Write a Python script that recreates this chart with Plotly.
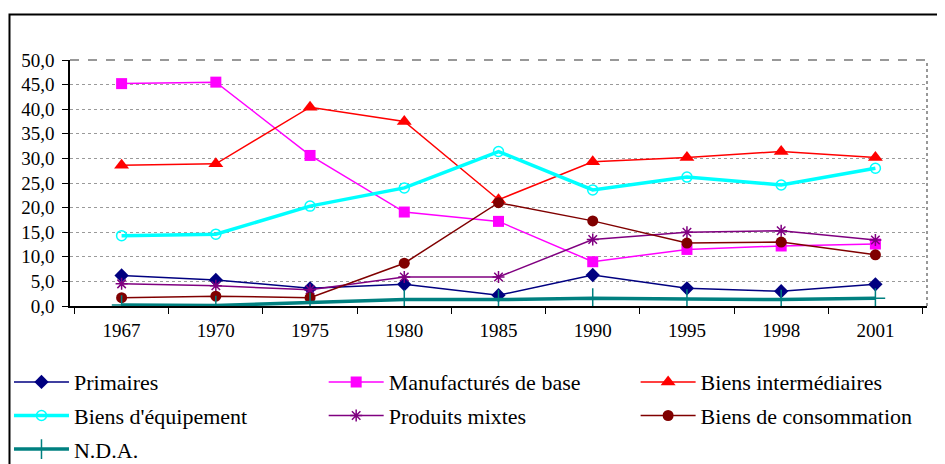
import plotly.graph_objects as go

years = ["1967", "1970", "1975", "1980", "1985", "1990", "1995", "1998", "2001"]
primaires = [6.2, 5.3, 3.6, 4.4, 2.2, 6.3, 3.6, 3.0, 4.4]
manufactures = [45.2, 45.5, 30.6, 19.1, 17.2, 9.0, 11.5, 12.2, 12.6]
intermediaires = [28.6, 28.9, 40.4, 37.5, 21.6, 29.3, 30.2, 31.4, 30.2]
equipement = [14.3, 14.6, 20.3, 24.0, 31.4, 23.6, 26.2, 24.6, 28.0]
mixtes = [4.5, 4.1, 3.3, 5.9, 5.9, 13.5, 15.0, 15.3, 13.4]
consommation = [1.7, 2.0, 1.7, 8.7, 21.0, 17.3, 12.8, 13.0, 10.4]
nda = [0.2, 0.1, 0.7, 1.3, 1.3, 1.6, 1.4, 1.3, 1.6]

FONT = "Liberation Serif, Times New Roman, Times, serif"

series = [
    ("Primaires", primaires, "#000080", 1.5, "diamond", 11, "legend", "g1"),
    ("Manufacturés de base", manufactures, "#FF00FF", 1.5, "square", 11, "legend2", "g2"),
    ("Biens intermédiaires", intermediaires, "#FF0000", 1.5, "triangle-up", 13, "legend3", "g3"),
    ("Biens d'équipement", equipement, "#00FFFF", 3.5, "circle-open", 10, "legend", "g4"),
    ("Produits mixtes", mixtes, "#800080", 1.5, "asterisk-open", 10, "legend2", "g5"),
    ("Biens de consommation", consommation, "#800000", 1.5, "circle", 11, "legend3", "g6"),
    ("N.D.A.", nda, "#008080", 3.5, "cross-thin-open", 14, "legend", "g7"),
]

fig = go.Figure()
for name, vals, color, lw, sym, ms, leg, grp in series:
    marker = dict(symbol=sym, size=ms, color=color)
    if sym.endswith("open"):
        marker["line"] = dict(color=color, width=1.5)
    fig.add_trace(go.Scatter(
        x=years, y=vals, name=name, mode="lines+markers",
        line=dict(color=color, width=lw), marker=marker,
        legend=leg, legendgroup=grp,
    ))

legend_common = dict(
    font=dict(family=FONT, size=22, color="black"),
    bgcolor="rgba(0,0,0,0)", borderwidth=0,
    itemwidth=55, tracegroupgap=2, yanchor="top", xanchor="left",
    y=-0.224, traceorder="grouped",
)

fig.update_layout(
    width=937, height=456,
    margin=dict(l=62, r=18, t=52, b=158, autoexpand=False),
    paper_bgcolor="white", plot_bgcolor="white",
    font=dict(family=FONT, size=19, color="black"),
    separators=",.",
    showlegend=True,
    legend=dict(x=-0.0712, **legend_common),
    legend2=dict(x=0.296, **legend_common),
    legend3=dict(x=0.660, **legend_common),
    xaxis=dict(
        type="category", showline=True, linecolor="black", linewidth=1.5,
        ticks="outside", tickson="boundaries", ticklen=6, tickcolor="black",
        showgrid=False, tickfont=dict(family=FONT, size=19), automargin=False,
        ticklabelstandoff=6,
    ),
    yaxis=dict(
        range=[0, 50], dtick=5, tickformat=".1f",
        showline=True, linecolor="black", linewidth=1.5,
        ticks="outside", ticklen=6, tickcolor="black",
        showgrid=True, gridcolor="#9a9a9a", griddash="dot", gridwidth=1,
        zeroline=False, tickfont=dict(family=FONT, size=19),
        ticklabelstandoff=4, automargin=False,
    ),
    shapes=[
        dict(type="line", xref="paper", yref="paper", x0=0, x1=1, y0=1, y1=1,
             line=dict(color="#777777", width=1.5, dash="dash")),
        dict(type="line", xref="paper", yref="paper", x0=1, x1=1, y0=0, y1=1,
             line=dict(color="#777777", width=1.5, dash="dot")),
        dict(type="rect", xref="paper", yref="paper", x0=-0.0706, x1=1.03,
             y0=-0.7, y1=1.185, line=dict(color="black", width=2)),
    ],
)

fig.write_html("out.html")
